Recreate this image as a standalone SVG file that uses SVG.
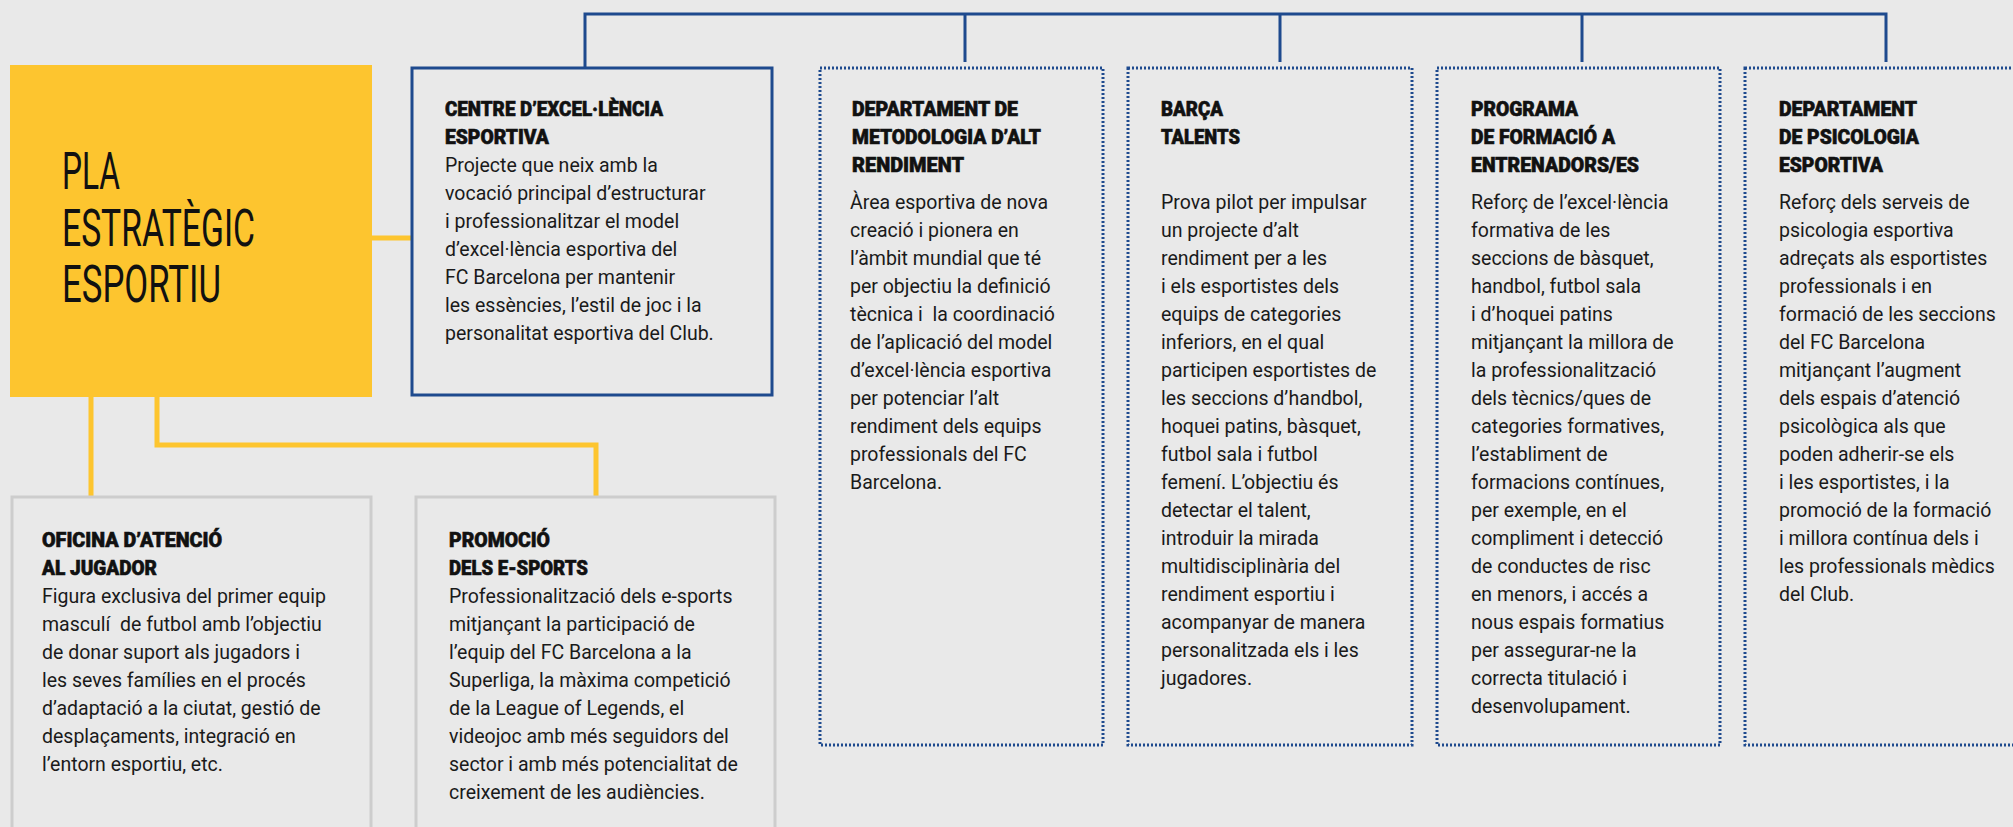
<svg xmlns="http://www.w3.org/2000/svg" width="2013" height="827" viewBox="0 0 2013 827">
<style>
.bg{fill:#E9E9E9}
.main{fill:#FDC52F}
.solid{fill:none;stroke:#1E4A8E;stroke-width:3}
.dot{fill:none;stroke:#1E4A8E;stroke-width:3;stroke-dasharray:2 2}
.gray{fill:none;stroke:#CDCDCD;stroke-width:3}
.blue{fill:none;stroke:#1E4A8E;stroke-width:3}
.yel{fill:none;stroke:#FDC52F;stroke-width:5}
.big{font-family:Roboto,"Liberation Sans",sans-serif;font-size:52px;font-weight:400;fill:#111}
.tt{font-family:Roboto,"Liberation Sans",sans-serif;font-size:20px;font-weight:900;fill:#111;stroke:#111;stroke-width:0.6}
.bd{font-family:Roboto,"Liberation Sans",sans-serif;font-size:19.5px;font-weight:400;fill:#1a1a1a}
</style>
<rect class="bg" x="0" y="0" width="2013" height="827"/>
<g id="connectors">
<path class="blue" d="M585 68V14H1886V62M965 14V62M1280 14V62M1582 14V62"/>
<path class="yel" d="M372 238H412M91 397V497M157 397V445H596V497"/>
</g>
<g id="pla">
<rect class="main" x="10" y="65" width="362" height="332"/>
<text class="big"><tspan x="62" y="189" textLength="58" lengthAdjust="spacingAndGlyphs">PLA</tspan><tspan x="62" y="246" textLength="193" lengthAdjust="spacingAndGlyphs">ESTRATÈGIC</tspan><tspan x="62" y="302" textLength="159" lengthAdjust="spacingAndGlyphs">ESPORTIU</tspan></text>
</g>
<g id="centre">
<rect class="solid" x="412" y="68" width="360" height="327"/>
<text class="tt"><tspan x="445" y="116" textLength="218" lengthAdjust="spacingAndGlyphs">CENTRE D’EXCEL·LÈNCIA</tspan><tspan x="445" y="144" textLength="104" lengthAdjust="spacingAndGlyphs">ESPORTIVA</tspan></text>
<text class="bd"><tspan x="445" y="172">Projecte que neix amb la</tspan><tspan x="445" y="200">vocació principal d’estructurar</tspan><tspan x="445" y="228">i professionalitzar el model</tspan><tspan x="445" y="256">d’excel·lència esportiva del</tspan><tspan x="445" y="284">FC Barcelona per mantenir</tspan><tspan x="445" y="312">les essències, l’estil de joc i la</tspan><tspan x="445" y="340">personalitat esportiva del Club.</tspan></text>
</g>
<g id="metodologia">
<rect class="dot" x="820" y="68" width="283" height="677"/>
<text class="tt"><tspan x="852" y="116" textLength="166" lengthAdjust="spacingAndGlyphs">DEPARTAMENT DE</tspan><tspan x="852" y="144" textLength="189" lengthAdjust="spacingAndGlyphs">METODOLOGIA D’ALT</tspan><tspan x="852" y="172" textLength="112" lengthAdjust="spacingAndGlyphs">RENDIMENT</tspan></text>
<text class="bd"><tspan x="850" y="209">Àrea esportiva de nova</tspan><tspan x="850" y="237">creació i pionera en</tspan><tspan x="850" y="265">l’àmbit mundial que té</tspan><tspan x="850" y="293">per objectiu la definició</tspan><tspan x="850" y="321">tècnica i&#160; la coordinació</tspan><tspan x="850" y="349">de l’aplicació del model</tspan><tspan x="850" y="377">d’excel·lència esportiva</tspan><tspan x="850" y="405">per potenciar l’alt</tspan><tspan x="850" y="433">rendiment dels equips</tspan><tspan x="850" y="461">professionals del FC</tspan><tspan x="850" y="489">Barcelona.</tspan></text>
</g>
<g id="barca">
<rect class="dot" x="1128" y="68" width="284" height="677"/>
<text class="tt"><tspan x="1161" y="116" textLength="62" lengthAdjust="spacingAndGlyphs">BARÇA</tspan><tspan x="1161" y="144" textLength="79" lengthAdjust="spacingAndGlyphs">TALENTS</tspan></text>
<text class="bd"><tspan x="1161" y="209">Prova pilot per impulsar</tspan><tspan x="1161" y="237">un projecte d’alt</tspan><tspan x="1161" y="265">rendiment per a les</tspan><tspan x="1161" y="293">i els esportistes dels</tspan><tspan x="1161" y="321">equips de categories</tspan><tspan x="1161" y="349">inferiors, en el qual</tspan><tspan x="1161" y="377">participen esportistes de</tspan><tspan x="1161" y="405">les seccions d’handbol,</tspan><tspan x="1161" y="433">hoquei patins, bàsquet,</tspan><tspan x="1161" y="461">futbol sala i futbol</tspan><tspan x="1161" y="489">femení. L’objectiu és</tspan><tspan x="1161" y="517">detectar el talent,</tspan><tspan x="1161" y="545">introduir la mirada</tspan><tspan x="1161" y="573">multidisciplinària del</tspan><tspan x="1161" y="601">rendiment esportiu i</tspan><tspan x="1161" y="629">acompanyar de manera</tspan><tspan x="1161" y="657">personalitzada els i les</tspan><tspan x="1161" y="685">jugadores.</tspan></text>
</g>
<g id="programa">
<rect class="dot" x="1437" y="68" width="283" height="677"/>
<text class="tt"><tspan x="1471" y="116" textLength="107" lengthAdjust="spacingAndGlyphs">PROGRAMA</tspan><tspan x="1471" y="144" textLength="144" lengthAdjust="spacingAndGlyphs">DE FORMACIÓ A</tspan><tspan x="1471" y="172" textLength="168" lengthAdjust="spacingAndGlyphs">ENTRENADORS/ES</tspan></text>
<text class="bd"><tspan x="1471" y="209">Reforç de l’excel·lència</tspan><tspan x="1471" y="237">formativa de les</tspan><tspan x="1471" y="265">seccions de bàsquet,</tspan><tspan x="1471" y="293">handbol, futbol sala</tspan><tspan x="1471" y="321">i d’hoquei patins</tspan><tspan x="1471" y="349">mitjançant la millora de</tspan><tspan x="1471" y="377">la professionalització</tspan><tspan x="1471" y="405">dels tècnics/ques de</tspan><tspan x="1471" y="433">categories formatives,</tspan><tspan x="1471" y="461">l’establiment de</tspan><tspan x="1471" y="489">formacions contínues,</tspan><tspan x="1471" y="517">per exemple, en el</tspan><tspan x="1471" y="545">compliment i detecció</tspan><tspan x="1471" y="573">de conductes de risc</tspan><tspan x="1471" y="601">en menors, i accés a</tspan><tspan x="1471" y="629">nous espais formatius</tspan><tspan x="1471" y="657">per assegurar-ne la</tspan><tspan x="1471" y="685">correcta titulació i</tspan><tspan x="1471" y="713">desenvolupament.</tspan></text>
</g>
<g id="psicologia">
<rect class="dot" x="1745" y="68" width="290" height="677"/>
<text class="tt"><tspan x="1779" y="116" textLength="138" lengthAdjust="spacingAndGlyphs">DEPARTAMENT</tspan><tspan x="1779" y="144" textLength="140" lengthAdjust="spacingAndGlyphs">DE PSICOLOGIA</tspan><tspan x="1779" y="172" textLength="104" lengthAdjust="spacingAndGlyphs">ESPORTIVA</tspan></text>
<text class="bd"><tspan x="1779" y="209">Reforç dels serveis de</tspan><tspan x="1779" y="237">psicologia esportiva</tspan><tspan x="1779" y="265">adreçats als esportistes</tspan><tspan x="1779" y="293">professionals i en</tspan><tspan x="1779" y="321">formació de les seccions</tspan><tspan x="1779" y="349">del FC Barcelona</tspan><tspan x="1779" y="377">mitjançant l’augment</tspan><tspan x="1779" y="405">dels espais d’atenció</tspan><tspan x="1779" y="433">psicològica als que</tspan><tspan x="1779" y="461">poden adherir-se els</tspan><tspan x="1779" y="489">i les esportistes, i la</tspan><tspan x="1779" y="517">promoció de la formació</tspan><tspan x="1779" y="545">i millora contínua dels i</tspan><tspan x="1779" y="573">les professionals mèdics</tspan><tspan x="1779" y="601">del Club.</tspan></text>
</g>
<g id="oficina">
<rect class="gray" x="12" y="497" width="359" height="345"/>
<text class="tt"><tspan x="42" y="547" textLength="180" lengthAdjust="spacingAndGlyphs">OFICINA D’ATENCIÓ</tspan><tspan x="42" y="575" textLength="115" lengthAdjust="spacingAndGlyphs">AL JUGADOR</tspan></text>
<text class="bd"><tspan x="42" y="603">Figura exclusiva del primer equip</tspan><tspan x="42" y="631">masculí&#160; de futbol amb l’objectiu</tspan><tspan x="42" y="659">de donar suport als jugadors i</tspan><tspan x="42" y="687">les seves famílies en el procés</tspan><tspan x="42" y="715">d’adaptació a la ciutat, gestió de</tspan><tspan x="42" y="743">desplaçaments, integració en</tspan><tspan x="42" y="771">l’entorn esportiu, etc.</tspan></text>
</g>
<g id="promocio">
<rect class="gray" x="416" y="497" width="359" height="345"/>
<text class="tt"><tspan x="449" y="547" textLength="101" lengthAdjust="spacingAndGlyphs">PROMOCIÓ</tspan><tspan x="449" y="575" textLength="139" lengthAdjust="spacingAndGlyphs">DELS E-SPORTS</tspan></text>
<text class="bd"><tspan x="449" y="603">Professionalització dels e-sports</tspan><tspan x="449" y="631">mitjançant la participació de</tspan><tspan x="449" y="659">l’equip del FC Barcelona a la</tspan><tspan x="449" y="687">Superliga, la màxima competició</tspan><tspan x="449" y="715">de la League of Legends, el</tspan><tspan x="449" y="743">videojoc amb més seguidors del</tspan><tspan x="449" y="771">sector i amb més potencialitat de</tspan><tspan x="449" y="799">creixement de les audiències.</tspan></text>
</g>
</svg>
